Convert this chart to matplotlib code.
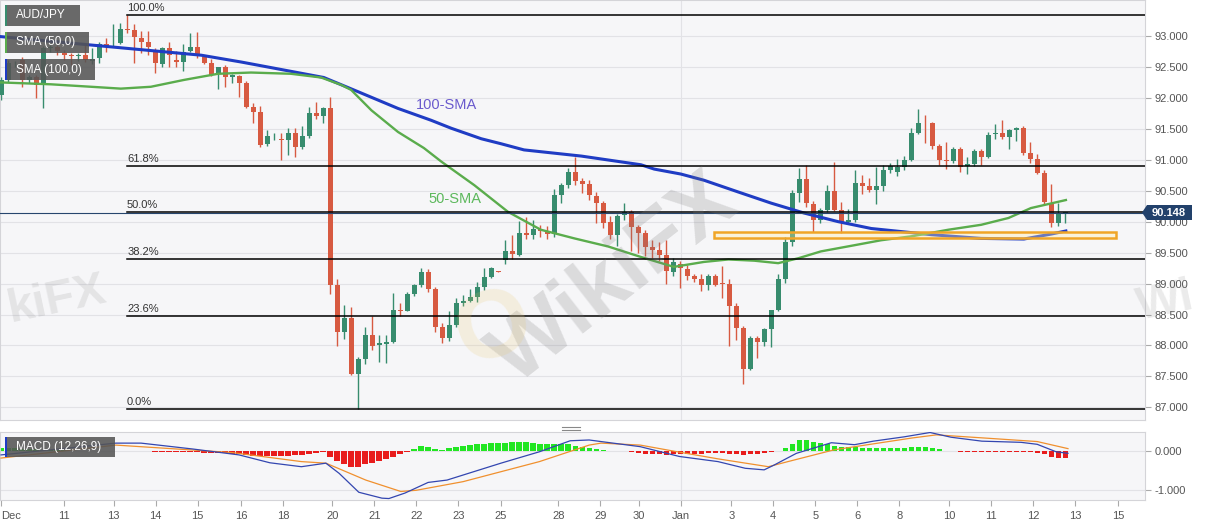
import numpy as np
import matplotlib.pyplot as plt
from matplotlib.patches import Rectangle, Polygon

plt.rcParams['font.family'] = ['Liberation Sans', 'DejaVu Sans']

W, H = 1207, 526

# 4H candles, AUD/JPY
opens = [92.05, 92.29, 92.56, 92.61, 92.29, 92.34, 92.22, 92.81, 92.82, 92.73,
         92.70, 92.68, 92.69, 92.60, 92.64, 92.87, 92.85, 92.89, 93.11, 93.10,
         92.97, 92.90, 92.77, 92.55, 92.80, 92.61, 92.58, 92.76, 92.82, 92.66,
         92.56, 92.39, 92.50, 92.34, 92.35, 92.24, 91.85, 91.78, 91.26, 91.38,
         91.33, 91.32, 91.44, 91.21, 91.38, 91.76, 91.71, 91.83, 88.98, 88.21,
         88.44, 87.54, 87.78, 88.17, 88.00, 88.02, 88.06, 88.57, 88.56, 88.83,
         88.98, 89.19, 88.91, 88.30, 88.12, 88.33, 88.69, 88.72, 88.79, 88.95,
         89.11, 89.20, 89.38, 89.52, 89.47, 89.82, 89.79, 89.88, 89.85, 89.80,
         90.43, 90.59, 90.81, 90.65, 90.61, 90.42, 90.30, 89.99, 89.79, 90.11,
         90.16, 89.91, 89.81, 89.59, 89.54, 89.46, 89.18, 89.31, 89.24, 89.12,
         89.08, 88.98, 89.13, 89.00, 89.00, 88.63, 88.28, 87.62, 88.12, 88.06,
         88.26, 88.57, 89.08, 89.68, 90.46, 90.69, 90.29, 90.02, 90.19, 90.50,
         90.19, 90.00, 90.02, 90.62, 90.58, 90.51, 90.58, 90.83, 90.81, 90.88,
         91.00, 91.43, 91.60, 91.59, 91.22, 91.00, 90.98, 91.17, 90.90, 90.93,
         91.15, 91.05, 91.41, 91.44, 91.37, 91.48, 91.51, 91.11, 91.02, 90.79,
         90.30, 89.98, 90.12]
highs = [92.33, 92.62, 92.60, 92.66, 92.37, 92.37, 92.84, 92.86, 92.85, 92.78,
         92.72, 92.73, 92.86, 92.80, 92.91, 92.97, 93.20, 93.21, 93.34, 93.19,
         93.08, 93.08, 92.80, 92.82, 92.91, 92.75, 92.87, 93.05, 93.06, 92.69,
         92.63, 92.44, 92.53, 92.39, 92.37, 92.27, 91.91, 91.87, 91.48, 91.44,
         91.44, 91.51, 91.51, 91.55, 91.86, 91.94, 91.86, 92.01, 89.07, 88.65,
         88.62, 87.81, 88.30, 88.47, 88.17, 88.17, 88.85, 88.68, 88.87, 89.00,
         89.25, 89.23, 88.95, 88.36, 88.55, 88.76, 88.82, 88.92, 89.03, 89.25,
         89.27, 89.21, 89.70, 89.78, 90.01, 90.08, 90.03, 89.94, 89.93, 90.53,
         90.62, 90.86, 91.05, 90.70, 90.68, 90.48, 90.33, 90.09, 90.13, 90.30,
         90.19, 89.95, 89.87, 89.70, 89.68, 89.71, 89.42, 89.36, 89.30, 89.16,
         89.16, 89.16, 89.16, 89.28, 89.08, 88.68, 88.32, 88.16, 88.16, 88.28,
         88.58, 89.15, 89.76, 90.51, 90.86, 90.92, 90.33, 90.22, 90.59, 90.97,
         90.32, 90.20, 90.84, 90.75, 90.70, 90.89, 90.92, 90.95, 91.02, 91.06,
         91.51, 91.82, 91.72, 91.61, 91.25, 91.29, 91.20, 91.20, 91.05, 91.17,
         91.18, 91.45, 91.58, 91.65, 91.50, 91.53, 91.54, 91.29, 91.09, 90.84,
         90.61, 90.31, 90.16]
lows = [91.97, 92.25, 92.50, 92.18, 92.24, 92.00, 91.84, 92.74, 92.70, 92.62,
        92.53, 92.60, 92.58, 92.55, 92.56, 92.74, 92.82, 92.87, 93.05, 92.56,
        92.73, 92.69, 92.40, 92.50, 92.50, 92.50, 92.43, 92.74, 92.64, 92.54,
        92.35, 92.14, 92.18, 92.24, 92.01, 91.83, 91.59, 91.20, 91.22, 91.32,
        91.00, 91.08, 91.05, 91.18, 91.35, 91.66, 91.59, 88.83, 87.99, 88.10,
        87.52, 86.97, 87.70, 87.92, 87.74, 87.72, 88.04, 88.48, 88.55, 88.80,
        88.95, 88.86, 88.21, 88.04, 88.08, 88.30, 88.63, 88.70, 88.70, 88.90,
        89.09, 89.18, 89.31, 89.40, 89.44, 89.72, 89.72, 89.75, 89.72, 89.75,
        90.30, 90.55, 90.60, 90.47, 90.35, 89.98, 89.90, 89.72, 89.60, 90.03,
        89.52, 89.50, 89.45, 89.42, 89.36, 88.99, 89.12, 88.93, 89.05, 89.03,
        88.88, 88.90, 88.96, 88.76, 87.99, 88.09, 87.38, 87.60, 87.80, 87.99,
        87.98, 88.55, 89.01, 89.61, 90.32, 90.24, 89.84, 89.98, 90.16, 90.17,
        89.81, 89.98, 90.00, 90.45, 90.48, 90.29, 90.50, 90.78, 90.74, 90.83,
        90.98, 91.41, 91.27, 91.17, 90.92, 90.85, 90.95, 90.81, 90.77, 90.90,
        90.92, 91.03, 91.34, 91.34, 91.17, 91.30, 91.07, 90.95, 90.77, 90.28,
        89.91, 89.93, 89.98]
closes = [92.29, 92.56, 92.57, 92.29, 92.34, 92.21, 92.81, 92.82, 92.76, 92.69,
          92.68, 92.69, 92.61, 92.63, 92.87, 92.84, 92.86, 93.11, 93.10, 92.98,
          92.90, 92.82, 92.56, 92.81, 92.69, 92.58, 92.74, 92.82, 92.69, 92.56,
          92.37, 92.50, 92.34, 92.37, 92.24, 91.85, 91.78, 91.24, 91.38, 91.39,
          91.32, 91.44, 91.21, 91.38, 91.76, 91.71, 91.83, 88.98, 88.21, 88.44,
          87.54, 87.78, 88.17, 87.99, 88.04, 88.06, 88.57, 88.56, 88.83, 88.98,
          89.19, 88.91, 88.30, 88.12, 88.33, 88.69, 88.72, 88.79, 88.95, 89.11,
          89.25, 89.19, 89.52, 89.48, 89.82, 89.79, 89.88, 89.85, 89.80, 90.43,
          90.59, 90.81, 90.65, 90.61, 90.43, 90.30, 89.98, 89.79, 90.09, 90.16,
          89.91, 89.81, 89.59, 89.54, 89.47, 89.20, 89.35, 89.25, 89.12, 89.08,
          88.98, 89.13, 88.98, 88.99, 88.64, 88.28, 87.62, 88.12, 88.06, 88.26,
          88.57, 89.08, 89.68, 90.46, 90.69, 90.30, 90.02, 90.19, 90.50, 90.19,
          90.00, 90.02, 90.62, 90.58, 90.51, 90.58, 90.84, 90.90, 90.88, 91.00,
          91.43, 91.60, 91.59, 91.22, 91.00, 90.98, 91.17, 90.89, 90.93, 91.15,
          91.05, 91.40, 91.44, 91.37, 91.48, 91.51, 91.11, 91.02, 90.79, 90.32,
          89.98, 90.12, 90.15]

# moving averages (candle index, price)
sma50_x = [0, 7.1, 14.3, 17.1, 21.4, 26.1, 31.0, 35.7, 41.4, 45.7, 48.6, 50.0,
           52.9, 56.7, 60.4, 62.9, 67.6, 72.4, 77.1, 81.9, 86.7, 91.4, 96.1,
           100.4, 103.9, 107.6, 111.0, 113.9, 117.1, 121.9, 125.7, 130.4,
           135.3, 140.0, 143.9, 147.1, 152.1]
sma50_v = [92.25, 92.22, 92.17, 92.15, 92.18, 92.29, 92.39, 92.41, 92.39, 92.33,
           92.21, 92.13, 91.80, 91.45, 91.19, 90.97, 90.59, 90.16, 89.87, 89.73,
           89.60, 89.43, 89.27, 89.35, 89.39, 89.37, 89.33, 89.41, 89.52, 89.62,
           89.70, 89.77, 89.87, 89.95, 90.06, 90.22, 90.35]
sma100_x = [0, 19.0, 28.6, 34.3, 46.1, 51.0, 56.7, 61.4, 64.3, 68.6, 71.4, 74.7,
            82.9, 91.4, 93.3, 97.1, 100.4, 105.3, 110.0, 114.7, 119.6, 124.3,
            128.6, 132.9, 140.0, 146.1, 150.0, 152.1]
sma100_v = [92.99, 92.79, 92.69, 92.58, 92.33, 92.10, 91.83, 91.64, 91.51, 91.34,
            91.26, 91.16, 91.06, 90.92, 90.85, 90.77, 90.67, 90.48, 90.30, 90.14,
            90.00, 89.89, 89.84, 89.79, 89.73, 89.72, 89.80, 89.85]

# MACD (12,26,9)
macd_x = [0, 16.4, 20, 27.4, 34, 38.4, 42.9, 46.4, 48.3, 51.1, 54.4, 55.4, 57.7,
          61, 63.7, 71.4, 76.9, 81.3, 84, 85.7, 91.3, 96.9, 102.4, 106.3, 109,
          110.4, 113.6, 118.6, 121.9, 124.6, 129, 132.7, 135.7, 140.1, 145.7,
          148, 150.7, 152.4]
macd_v = [-0.10, 0.20, 0.20, 0.05, -0.10, -0.30, -0.40, -0.31, -0.57, -1.05, -1.20,
          -1.21, -1.07, -0.80, -0.74, -0.31, -0.02, 0.26, 0.28, 0.24, 0.11, -0.14,
          -0.27, -0.44, -0.48, -0.36, -0.06, 0.21, 0.16, 0.25, 0.36, 0.47, 0.35,
          0.25, 0.22, 0.17, -0.02, -0.06]
signal_x = [0, 16.4, 33, 42.9, 46.4, 52.1, 57.1, 59.3, 66, 76.9, 84, 85.7, 91.3,
            96.9, 102.4, 109.6, 112.4, 119, 130.1, 133.6, 141.3, 148, 152.4]
signal_v = [-0.18, 0.15, -0.04, -0.27, -0.31, -0.74, -1.03, -1.00, -0.78, -0.27,
            0.15, 0.20, 0.15, -0.03, -0.20, -0.40, -0.27, 0.03, 0.33, 0.41, 0.32,
            0.24, 0.06]
hist = [0.08, 0.08, 0.07, 0.06, 0.05,
        0.04, 0.03, 0.02, 0.02, 0.02, 0.01, 0.01, 0.01, 0.01, 0.01, 0.01, 0.01,
        0.01, 0.01, 0.01, 0.01, 0.01,
        -0.02, -0.02, -0.03, -0.03, -0.03, -0.03, -0.03, -0.04, -0.04, -0.05,
        -0.06, -0.07,
        -0.08, -0.10, -0.12, -0.13, -0.13, -0.13, -0.12, -0.12, -0.11, -0.10,
        -0.08, -0.05, -0.03,
        -0.15, -0.25, -0.32, -0.41, -0.41, -0.34, -0.30, -0.25, -0.21, -0.15,
        -0.07, -0.02,
        0.06, 0.13, 0.09, 0.04, 0.03, 0.08, 0.10, 0.13, 0.15, 0.17, 0.19, 0.20,
        0.20, 0.21, 0.23, 0.23, 0.23, 0.21, 0.19, 0.19, 0.19, 0.17, 0.17, 0.13,
        0.10, 0.08,
        0.05, 0.02,
        -0.01, -0.01, -0.01, -0.02, -0.05, -0.07, -0.07, -0.085, -0.10, -0.085,
        -0.07, -0.07, -0.07, -0.07, -0.05, -0.05, -0.05, -0.07, -0.07, -0.10,
        -0.085, -0.07, -0.04, -0.025,
        0.01, 0.085, 0.19, 0.27, 0.27, 0.24, 0.21, 0.17, 0.13, 0.10, 0.09, 0.09,
        0.08, 0.08, 0.08, 0.08, 0.08, 0.08, 0.08, 0.09, 0.09, 0.09, 0.08, 0.04,
        0.01,
        -0.01, -0.02, -0.02, -0.02, -0.02, -0.02, -0.02, -0.02, -0.02, -0.03,
        -0.03,
        -0.03, -0.04, -0.085, -0.15, -0.17, -0.17]

# fibonacci retracement between the 93.34 top and the 86.97 bottom
fib_high, fib_low = 93.34, 86.97
fib_ratios = [1.0, 0.618, 0.5, 0.382, 0.236, 0.0]
fib_labels = ['100.0%', '61.8%', '50.0%', '38.2%', '23.6%', '0.0%']
fib_start = 18

last_price = 90.148
zone_low, zone_high = 89.73, 89.83
zone_x0, zone_x1 = 101.9, 159.3

day_pos = [0, 9, 16.1, 22.1, 28.1, 34.3, 40.3, 47.3, 53.3, 59.3, 65.3, 71.4,
           79.6, 85.6, 91.1, 97.1, 104.3, 110.3, 116.3, 122.3, 128.3, 135.4,
           141.4, 147.4, 153.4, 159.6]
day_lbl = ['Dec', '11', '13', '14', '15', '16', '18', '20', '21', '22', '23', '25',
           '28', '29', '30', 'Jan', '3', '4', '5', '6', '8', '10', '11', '12',
           '13', '15']
jan_pos = 97.1

up_c = '#378c6e'
dn_c = '#d75a41'
bg = '#f6f6f8'
grid_c = '#e2e2e6'


def fx(x):
    return x / W


def fy(y):
    return 1 - y / H


fig = plt.figure(figsize=(W / 100, H / 100), dpi=100)
fig.patch.set_facecolor('white')

ax = fig.add_axes([0, fy(420), fx(1145), 420 / H])
ax2 = fig.add_axes([0, fy(500), fx(1145), 68 / H])

xlim = (-0.15, 163.4)
for a in (ax, ax2):
    a.set_facecolor(bg)
    a.set_xlim(xlim)
    for s in a.spines.values():
        s.set_color('#d4d4d8')
        s.set_linewidth(0.8)
    a.axvline(jan_pos, color=grid_c, lw=0.8, zorder=0)

# ---- main panel ----
ax.set_ylim(86.796, 93.582)
yt = np.arange(87.0, 93.01, 0.5)
for v in yt:
    ax.axhline(v, color=grid_c, lw=0.8, zorder=0)
ax.yaxis.tick_right()
ax.set_yticks(yt)
ax.set_yticklabels(['%.3f' % v for v in yt])
ax.tick_params(axis='y', length=4, color='#aaaaaa', labelcolor='#555555',
               labelsize=8, pad=3)
ax.set_xticks([])

idx = np.arange(len(opens))
o = np.array(opens)
c = np.array(closes)
cols = [up_c if cc >= oo else dn_c for oo, cc in zip(o, c)]
ax.vlines(idx, lows, highs, colors=cols, lw=1.0, zorder=2)
body = np.maximum(np.abs(c - o), 0.012)
ax.bar(idx, body, bottom=np.minimum(o, c), width=0.72, color=cols, zorder=3,
       linewidth=0)

ax.plot(sma100_x, sma100_v, color='#1f3cc4', lw=2.2, zorder=4)
ax.plot(sma50_x, sma50_v, color='#5aac4c', lw=1.7, zorder=4)

ax.text(59.3, 91.89, '100-SMA', color='#6a5acd', fontsize=10.5, va='center',
        ha='left', zorder=6)
ax.text(61.1, 90.37, '50-SMA', color='#5cb85c', fontsize=10.5, va='center',
        ha='left', zorder=6)

for r, lab in zip(fib_ratios, fib_labels):
    lvl = fib_low + r * (fib_high - fib_low)
    ax.plot([fib_start, xlim[1]], [lvl, lvl], color='black', lw=1.1, zorder=5)
    ax.text(fib_start, lvl + 0.03, lab, fontsize=8, color='#333333',
            ha='left', va='bottom', zorder=6)

ax.axhline(last_price, color='#27466e', lw=0.8, zorder=5)

ax.add_patch(Rectangle((zone_x0, zone_low), zone_x1 - zone_x0, zone_high - zone_low,
                       facecolor=(1.0, 0.93, 0.65, 0.35), edgecolor='#f0a527',
                       lw=1.8, zorder=5))

# ---- MACD panel ----
ax2.set_ylim(-1.247, 0.483)
ax2.axhline(0, color=grid_c, lw=0.8, zorder=0)
ax2.axhline(-1, color=grid_c, lw=0.8, zorder=0)
hcols = ['#22e622' if h >= 0 else '#e81c1c' for h in hist]
ax2.bar(idx, hist, width=0.75, color=hcols, linewidth=0, zorder=2)
ax2.plot(signal_x, signal_v, color='#f0902e', lw=0.9, zorder=3)
ax2.plot(macd_x, macd_v, color='#3346b0', lw=0.9, zorder=3)
ax2.yaxis.tick_right()
ax2.set_yticks([0, -1])
ax2.set_yticklabels(['0.000', '-1.000'])
ax2.tick_params(axis='y', length=4, color='#aaaaaa', labelcolor='#555555',
                labelsize=8, pad=3)
ax2.set_xticks(day_pos)
ax2.set_xticklabels(day_lbl)
ax2.tick_params(axis='x', length=4, color='#aaaaaa', labelcolor='#555555',
                labelsize=8, pad=4)
ax2.get_xticklabels()[0].set_ha('left')

# ---- legend boxes ----
def label_box(x, y, w, h, text, stripe):
    fig.add_artist(Rectangle((fx(x), fy(y + h)), fx(w), h / H,
                             transform=fig.transFigure, facecolor='#555555',
                             alpha=0.88, edgecolor='none', zorder=10))
    fig.add_artist(Rectangle((fx(x), fy(y + h)), fx(2), h / H,
                             transform=fig.transFigure, facecolor=stripe,
                             edgecolor='none', zorder=11))
    fig.text(fx(x + 11), fy(y + h / 2), text, color='white', fontsize=8.5,
             va='center', ha='left', zorder=12)


label_box(5, 5, 75, 21, 'AUD/JPY', up_c)
label_box(5, 32, 84, 21, 'SMA (50,0)', '#5aac4c')
label_box(5, 59, 90, 21, 'SMA (100,0)', '#1f3cc4')
label_box(5, 437, 110, 20, 'MACD (12,26,9)', '#1f3cc4')

# price tag
tag_y = 212.5
fig.add_artist(Polygon([(fx(1142), fy(tag_y)), (fx(1147), fy(tag_y - 7.5)),
                        (fx(1192), fy(tag_y - 7.5)), (fx(1192), fy(tag_y + 7.5)),
                        (fx(1147), fy(tag_y + 7.5))],
                       closed=True, transform=fig.transFigure,
                       facecolor='#22416b', edgecolor='none', zorder=10))
fig.text(fx(1169), fy(tag_y), '90.148', color='white', fontsize=8,
         fontweight='bold', ha='center', va='center', zorder=11)

# panel resize handle
for yy in (427, 430):
    fig.add_artist(plt.Line2D([fx(562), fx(580)], [fy(yy), fy(yy)],
                              transform=fig.transFigure, color='#888888', lw=0.8))

# watermarks
fig.text(fx(615), fy(280), 'WikiFX', fontsize=62, fontweight='bold',
         color='#7a7a7a', alpha=0.22, rotation=38, ha='center', va='center',
         zorder=1)
fig.text(fx(495), fy(330), 'O', fontsize=70, fontweight='bold',
         color='#e8c66a', alpha=0.18, rotation=20, ha='center', va='center',
         zorder=1)
fig.text(fx(4), fy(300), 'kiFX', fontsize=34, fontweight='bold',
         color='#7a7a7a', alpha=0.15, rotation=12, ha='left', va='center',
         zorder=1)
fig.text(fx(1133), fy(302), 'Wi', fontsize=34, fontweight='bold',
         color='#7a7a7a', alpha=0.15, rotation=12, ha='left', va='center',
         zorder=1)

fig.savefig('out.png', dpi=100, facecolor='white')
